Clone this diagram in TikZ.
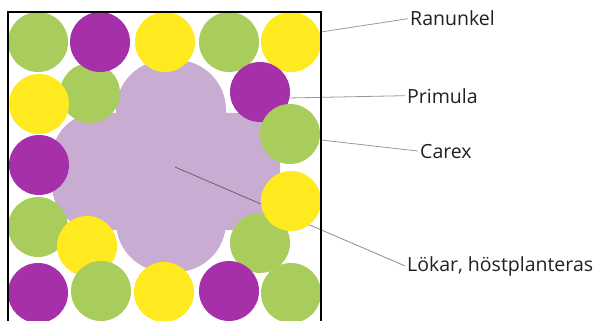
\documentclass[tikz,border=0pt]{standalone}
\usepackage{fontspec}
\setmainfont{Open Sans}
\definecolor{leafgreen}{RGB}{169,205,92}
\definecolor{plum}{RGB}{166,48,170}
\definecolor{sunyellow}{RGB}{255,234,32}
\definecolor{lilac}{RGB}{200,172,210}
\definecolor{inkgray}{RGB}{35,31,32}
\tikzset{
  plant/.style={circle,minimum size=60pt,inner sep=0pt},
  lbl/.style={anchor=base west,inner sep=2pt,text=inkgray,font=\fontsize{19.5}{23}\selectfont},
  leader/.style={draw=black,draw opacity=0.4,line width=0.8pt}
}
\begin{document}
\begin{tikzpicture}[x=1pt,y=-1pt]
    \useasboundingbox (0,0) rectangle (598,321);
    \clip (0,0) rectangle (598,321);
    % bulbs in the middle
    \fill[lilac,rounded corners=50pt] (116,60) rectangle (226,272);
    \fill[lilac,rounded corners=45pt] (52,113) rectangle (280,230);
    % labels
    \node[lbl] (ranunkel) at (408,26) {Ranunkel};
    \node[lbl] (primula) at (405,103) {Primula};
    \node[lbl] (carex) at (418,158) {Carex};
    \node[lbl] (lokar) at (405,271) {Lökar, höstplanteras};
    \coordinate (ranpt) at (321,32);
    \coordinate (pript) at (288,98);
    \coordinate (carpt) at (321,140);
    \coordinate (lokpt) at (175,167);
    \draw[leader] (ranpt) -- (ranunkel.west);
    \draw[leader] (pript) -- (primula.west);
    \draw[leader] (carpt) -- (carex.west);
    \draw[leader,draw opacity=0.45] (lokpt) -- (lokar.west);
    % plants around the edge
    \foreach \x/\y/\c [count=\i] in {90/93/leafgreen,
        38/42/leafgreen,100/42/plum,165/42/sunyellow,229/42/leafgreen,291/42/sunyellow,
        39/104/sunyellow,260/92/plum,290/134/leafgreen,
        39/165/plum,38/227/leafgreen,87/246/sunyellow,
        260/243/leafgreen,291/201/sunyellow,
        38/293/plum,101/291/leafgreen,164/292/sunyellow,229/291/plum,291/293/leafgreen}
      \node[plant,fill=\c] (p\i) at (\x,\y) {};
    % bed
    \draw[line width=1.6pt] (8,330) -- (8,12) -- (321,12) -- (321,330);
\end{tikzpicture}
\end{document}
